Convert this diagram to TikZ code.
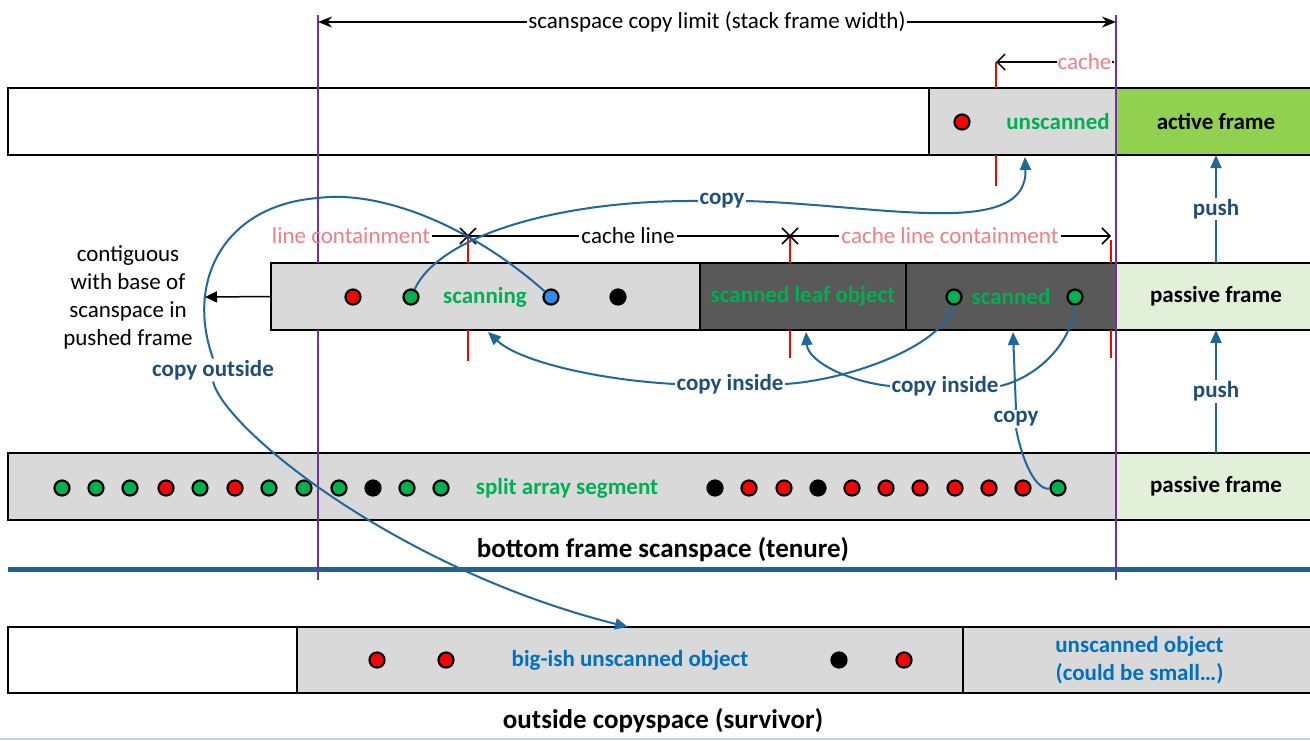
\documentclass[tikz,border=0pt]{standalone}
\usepackage{fontspec}
\setmainfont{Carlito}
\usetikzlibrary{arrows.meta}
\definecolor{grau}{HTML}{D9D9D9}
\definecolor{dunkel}{HTML}{595959}
\definecolor{aktiv}{HTML}{92D050}
\definecolor{passiv}{HTML}{E2F0D9}
\definecolor{gruen}{HTML}{00B050}
\definecolor{rosa}{HTML}{F07F83}
\definecolor{blau}{HTML}{0070C0}
\definecolor{pfeil}{HTML}{21679A}
\definecolor{pfeiltext}{HTML}{1F4E79}
\definecolor{lilaF}{HTML}{7030A0}
\definecolor{punktblau}{HTML}{2F8CF0}
\definecolor{trennF}{HTML}{1F6391}
\definecolor{randF}{HTML}{BDD7EE}
\begin{document}
\begin{tikzpicture}[x=1pt,y=-1pt,inner sep=2pt,
	font=\fontsize{23}{28}\selectfont,
	fett/.style={font=\fontsize{23}{28}\selectfont\bfseries},
	titel/.style={font=\fontsize{27}{32}\selectfont\bfseries},
	seg/.style={draw,line width=2.5pt,anchor=north west,minimum height=67pt,inner sep=0pt,outer sep=0pt},
	dot/.style={circle,draw,line width=2.2pt,minimum size=15pt,inner sep=0pt},
	gtext/.style={fett,text=gruen},
	btext/.style={fett,text=blau,align=center},
	lbl/.style={fett,fill=white,inner sep=1.5pt,text=pfeiltext},
	mass/.style={fill=white,inner sep=1pt},
	kurve/.style={draw=pfeil,line width=2pt},
	cpy/.style={kurve,-{Triangle[length=13pt,width=11pt]}},
	grenze/.style={draw=lilaF,line width=2.2pt},
	tick/.style={draw=red,line width=2pt},
	strich/.style={line width=1.5pt}]
	\useasboundingbox[fill=white] (0,0) rectangle (1310,740);
	% Zeile 3: split array segment
	\node[seg,fill=grau,minimum width=1108pt] (spl) at (8,453) {};
	\node[seg,fill=passiv,minimum width=200pt,fett] (pas2) at (1116,453) {passive frame};
	\node[gtext] (tspl) at (567,488) {split array segment};
	\foreach \x/\f [count=\i] in {62/gruen,96/gruen,130/gruen,166/red,200/gruen,235/red,269/gruen,304/gruen,339/gruen,373/black,407/gruen,441/gruen,715/black,749/red,784/red,818/black,852/red,886/red,920/red,955/red,989/red,1023/red,1058/gruen}
	\node[dot,fill=\f] (a\i) at (\x,488) {};
	\node[titel] (cap1) at (663,550) {bottom frame scanspace (tenure)};
	% Trennlinie
	\draw[trennF,line width=5pt] (8,569) -- (1310,569);
	% Zeile 1: active frame
	\node[seg,fill=white,minimum width=921pt] (leer1) at (8,88) {};
	\node[seg,fill=grau,minimum width=187pt] (uns) at (929,88) {};
	\node[seg,fill=aktiv,minimum width=200pt,fett] (act) at (1116,88) {active frame};
	\node[dot,fill=red] (u1) at (962,122) {};
	\node[gtext] (tuns) at (1058,122) {unscanned};
	% Zeile 2: scanning
	\node[seg,fill=grau,minimum width=429pt] (scn) at (271,263) {};
	\node[seg,fill=dunkel,minimum width=206pt,gtext] (leaf) at (700,263) {scanned leaf object};
	\node[seg,fill=dunkel,minimum width=210pt] (scd) at (906,263) {};
	\node[seg,fill=passiv,minimum width=200pt,fett] (pas1) at (1116,263) {passive frame};
	\foreach \x/\f/\n in {353/red/s1,411/gruen/s2,551/punktblau/s3,618/black/s4}
	\node[dot,fill=\f] (\n) at (\x,297) {};
	\node[gtext] (tscn) at (485,297) {scanning};
	\node[dot,fill=gruen] (sc1) at (954,297) {};
	\node[dot,fill=gruen] (sc2) at (1075,297) {};
	\node[gtext] (tscd) at (1011,297) {scanned};
	% Zeile 4: outside copyspace
	\node[seg,fill=white,minimum width=289pt,minimum height=66pt] (leer4) at (8,627) {};
	\node[seg,fill=grau,minimum width=666pt,minimum height=66pt] (big) at (297,627) {};
	\node[seg,fill=grau,minimum width=353pt,minimum height=66pt,btext] (small) at (963,627) {unscanned object\\(could be small…)};
	\foreach \x/\f in {377/red,446/red,839/black,904/red}
	\node[dot,fill=\f] (o\x) at (\x,660) {};
	\node[btext] (tbig) at (630,660) {big-ish unscanned object};
	\node[titel] (cap2) at (663,721) {outside copyspace (survivor)};
	\draw[randF,line width=1.5pt] (0,739) -- (1310,739);
	% Grenzen (lila)
	\draw[grenze] (318,15) -- (318,263) (318,330) -- (318,580);
	\draw[grenze] (1116,15) -- (1116,580);
	% Pfeil oben: copy limit
	\coordinate (kl) at (318,22);
	\coordinate (kr) at (1116,22);
	\draw[strich,{Stealth[length=14pt,width=11pt]}-{Stealth[length=14pt,width=11pt]}] (kl) -- node[mass]{scanspace copy limit (stack frame width)} (kr);
	% cache
	\coordinate (c0) at (1114,62);
	\coordinate (c1) at (996,62);
	\draw[tick] (996,62) -- (996,88) (996,155) -- (996,186);
	\draw[strich,-{Straight Barb[length=8pt,width=16pt]}] (c0) -- node[mass,text=rosa,pos=0.25]{cache} (c1);
	% cache line
	\foreach \x/\u in {468/361,790/358}
	\draw[tick] (\x,236) -- (\x,263) (\x,330) -- (\x,\u);
	\draw[tick] (1111,240) -- (1111,263) (1111,330) -- (1111,358);
	\node[text=rosa] (tlc) at (351,236) {line containment};
	\node (tcl) at (628,236) {cache line};
	\node[text=rosa] (tclc) at (950,236) {cache line containment};
	\coordinate (z1) at (1111,236);
	\draw[strich] (tlc) -- (tcl) -- (tclc);
	\draw[strich,-{Straight Barb[length=8pt,width=16pt]}] (tclc) -- (z1);
	\foreach \x in {468,790}
	\draw[strich] (\x-8,228) -- (\x+8,244) (\x-8,244) -- (\x+8,228);
	% contiguous
	\node[align=center] (kont) at (128,297) {contiguous\\with base of\\scanspace in\\pushed frame};
	\coordinate (kp) at (205,297);
	\draw[strich,-{Triangle[length=12pt,width=11pt]}] (scn.west) -- (kp);
	% push
	\draw[cpy] (pas1.north) -- node[lbl]{push} (act.south);
	\draw[cpy] (pas2.north) -- node[lbl]{push} (pas1.south);
	% copy
	\coordinate (uin) at (1025,157);
	\node[lbl] (lk1) at (722,201) {copy};
	\draw[kurve] (s2) .. controls (440,235) and (560,200) .. (lk1.west);
	\draw[cpy] (lk1.east) .. controls (880,205) and (1028,240) .. (uin);
	% copy outside
	\node[lbl] (lko) at (213,370) {copy outside};
	\coordinate (bin) at (628,627);
	\draw[kurve] (s3) .. controls (470,225) and (380,190) .. (318,198) .. controls (225,205) and (185,280) .. (lko.north);
	\draw[cpy] (lko.south) .. controls (225,430) and (400,570) .. (bin);
	% copy inside
	\node[lbl] (lki1) at (730,384) {copy inside};
	\coordinate (ci1) at (488,332);
	\draw[kurve] (sc1) .. controls (945,345) and (850,380) .. (lki1.east);
	\draw[cpy] (lki1.west) .. controls (600,380) and (520,362) .. (ci1);
	\node[lbl] (lki2) at (945,386) {copy inside};
	\coordinate (ci2) at (806,332);
	\draw[kurve] (sc2) .. controls (1072,345) and (1035,378) .. (lki2.east);
	\draw[cpy] (lki2.west) .. controls (850,382) and (808,362) .. (ci2);
	% copy von unten
	\node[lbl] (lkb) at (1016,419) {copy};
	\coordinate (ci3) at (1013,332);
	\draw[kurve] (a23) .. controls (1035,490) and (1022,460) .. (lkb.south);
	\draw[cpy] (lkb.north) -- (ci3);
\end{tikzpicture}
\end{document}
